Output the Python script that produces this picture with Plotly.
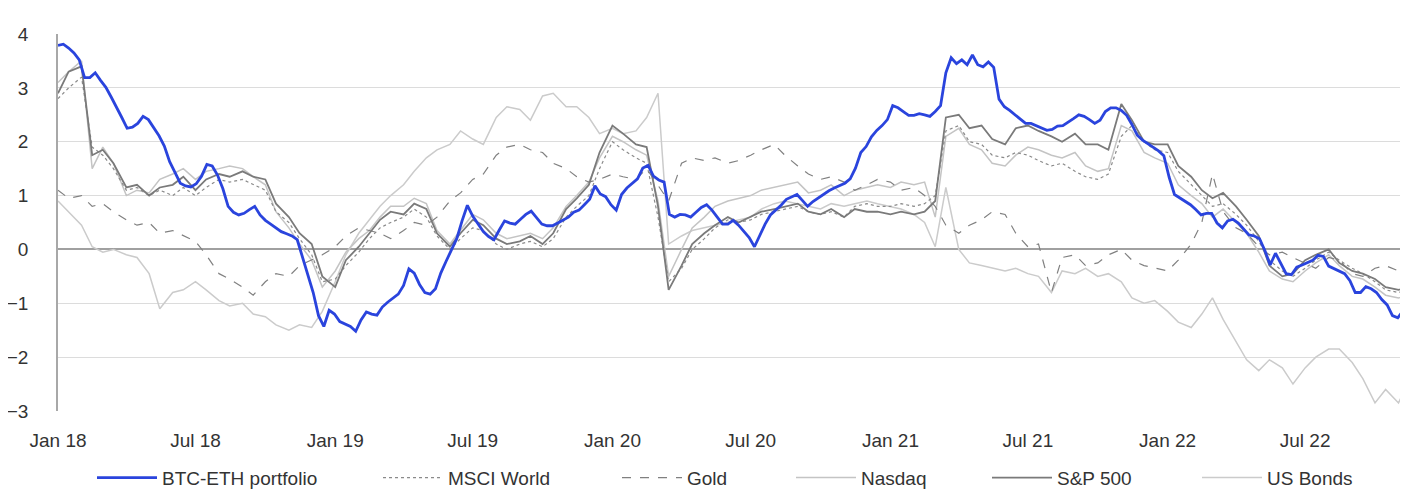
import pandas as pd
import plotly.graph_objects as go

# ---- data ----
# BTC-ETH portfolio: weekly readings from 1 Jan 2018
btc_dates = pd.date_range("2018-01-01", periods=256, freq="7D")
btc_eth = [3.79, 3.81, 3.74, 3.65, 3.52, 3.19, 3.19, 3.28, 3.14, 3.01, 2.83, 2.65,
           2.45, 2.25, 2.27, 2.34, 2.47, 2.41, 2.27, 2.11, 1.92, 1.63, 1.43, 1.23,
           1.18, 1.16, 1.22, 1.36, 1.58, 1.55, 1.38, 1.13, 0.80, 0.69, 0.64, 0.67,
           0.74, 0.80, 0.64, 0.54, 0.47, 0.40, 0.33, 0.29, 0.25, 0.18, -0.16, -0.47,
           -0.80, -1.23, -1.43, -1.13, -1.20, -1.34, -1.38, -1.43, -1.52, -1.31, -1.16, -1.20,
           -1.22, -1.07, -0.98, -0.91, -0.83, -0.67, -0.36, -0.44, -0.65, -0.80, -0.83, -0.73,
           -0.44, -0.22, 0.00, 0.20, 0.53, 0.82, 0.62, 0.47, 0.33, 0.24, 0.18, 0.36,
           0.53, 0.49, 0.47, 0.56, 0.65, 0.71, 0.58, 0.47, 0.44, 0.44, 0.49, 0.54,
           0.60, 0.69, 0.73, 0.83, 0.93, 1.18, 1.03, 0.98, 0.83, 0.73, 1.02, 1.14,
           1.22, 1.31, 1.51, 1.56, 1.36, 1.29, 1.25, 0.65, 0.60, 0.65, 0.64, 0.60,
           0.69, 0.78, 0.83, 0.73, 0.60, 0.47, 0.47, 0.54, 0.45, 0.33, 0.22, 0.05,
           0.27, 0.47, 0.64, 0.73, 0.82, 0.93, 0.98, 1.02, 0.91, 0.80, 0.89, 0.96,
           1.02, 1.09, 1.14, 1.18, 1.23, 1.31, 1.51, 1.80, 1.91, 2.09, 2.21, 2.30,
           2.41, 2.67, 2.63, 2.56, 2.49, 2.49, 2.52, 2.50, 2.47, 2.56, 2.67, 3.28,
           3.56, 3.45, 3.52, 3.43, 3.61, 3.43, 3.39, 3.48, 3.38, 2.79, 2.65, 2.58,
           2.50, 2.41, 2.34, 2.34, 2.30, 2.25, 2.21, 2.23, 2.29, 2.30, 2.36, 2.43,
           2.50, 2.47, 2.41, 2.34, 2.40, 2.56, 2.63, 2.63, 2.58, 2.49, 2.32, 2.12,
           2.03, 1.96, 1.89, 1.83, 1.74, 1.34, 1.02, 0.96, 0.89, 0.83, 0.74, 0.64,
           0.67, 0.67, 0.49, 0.40, 0.53, 0.56, 0.49, 0.38, 0.27, 0.25, 0.20, -0.02,
           -0.29, -0.07, -0.25, -0.45, -0.47, -0.33, -0.29, -0.24, -0.20, -0.11, -0.13, -0.31,
           -0.36, -0.40, -0.45, -0.58, -0.80, -0.80, -0.69, -0.73, -0.80, -0.93, -1.03, -1.23,
           -1.27, -1.14, -1.45, -1.36]

# Other series: semi-monthly readings (1st and 15th), last one on 24 Nov 2022
dates = list(pd.date_range("2018-01-01", periods=117, freq="SMS")) + [pd.Timestamp("2022-11-24")]

msci_world = [2.80, 3.00, 3.20, 1.90, 1.75, 1.50, 1.10, 1.15, 1.00, 1.10, 1.00, 1.15,
              1.00, 1.15, 1.30, 1.25, 1.30, 1.20, 1.10, 0.70, 0.50, 0.20, -0.10, -0.60,
              -0.55, -0.30, -0.05, 0.20, 0.40, 0.50, 0.60, 0.75, 0.60, 0.25, 0.00, 0.20,
              0.40, 0.35, 0.10, 0.00, 0.10, 0.15, 0.05, 0.20, 0.60, 0.80, 1.00, 1.50,
              2.00, 1.85, 1.70, 1.60, 0.60, -0.60, -0.35, 0.00, 0.20, 0.40, 0.55, 0.50,
              0.55, 0.65, 0.70, 0.75, 0.80, 0.70, 0.65, 0.70, 0.60, 0.80, 0.85, 0.80,
              0.80, 0.85, 0.80, 0.85, 1.00, 2.20, 2.30, 2.00, 1.95, 1.75, 1.70, 1.80,
              1.75, 1.65, 1.55, 1.60, 1.45, 1.35, 1.30, 1.40, 2.10, 2.30, 2.00, 1.85,
              1.80, 1.45, 1.20, 1.00, 0.80, 0.85, 0.65, 0.45, 0.15, -0.20, -0.40, -0.50,
              -0.35, -0.20, -0.05, -0.20, -0.35, -0.45, -0.60, -0.75, -0.80, -0.70]

gold = [1.10, 0.95, 1.00, 0.80, 0.85, 0.70, 0.55, 0.45, 0.50, 0.30, 0.35, 0.25,
        0.15, -0.10, -0.45, -0.55, -0.70, -0.85, -0.60, -0.45, -0.50, -0.30, -0.20, -0.10,
        0.05, 0.25, 0.40, 0.35, 0.30, 0.20, 0.35, 0.50, 0.45, 0.60, 0.90, 1.05,
        1.30, 1.40, 1.75, 1.90, 1.95, 1.85, 1.80, 1.60, 1.50, 1.35, 1.25, 1.30,
        1.40, 1.35, 1.30, 1.50, 1.20, 0.90, 1.60, 1.70, 1.65, 1.70, 1.60, 1.65,
        1.75, 1.85, 1.95, 1.75, 1.55, 1.40, 1.30, 1.35, 1.25, 1.10, 1.20, 1.30,
        1.25, 1.10, 1.15, 1.00, 0.80, 0.45, 0.30, 0.45, 0.55, 0.70, 0.65, 0.30,
        0.05, 0.10, -0.80, -0.15, -0.10, -0.30, -0.25, -0.10, 0.00, -0.20, -0.30, -0.35,
        -0.40, -0.20, 0.10, 0.50, 1.40, 0.70, 0.40, 0.30, 0.05, -0.10, -0.05, -0.15,
        -0.25, -0.35, -0.15, -0.20, -0.45, -0.50, -0.35, -0.30, -0.40, -0.35]

nasdaq = [3.10, 3.30, 3.50, 1.50, 1.90, 1.60, 1.00, 1.10, 1.05, 1.30, 1.40, 1.50,
          1.30, 1.45, 1.50, 1.55, 1.50, 1.35, 1.20, 0.70, 0.40, 0.10, -0.20, -0.70,
          -0.40, -0.05, 0.20, 0.35, 0.60, 0.80, 0.80, 0.95, 0.85, 0.35, 0.10, 0.35,
          0.65, 0.55, 0.30, 0.20, 0.25, 0.30, 0.20, 0.40, 0.80, 1.00, 1.25, 1.70,
          2.10, 2.00, 1.85, 1.75, 0.90, -0.50, 0.00, 0.40, 0.60, 0.80, 0.90, 0.95,
          1.00, 1.10, 1.15, 1.20, 1.25, 1.05, 1.10, 1.20, 1.00, 1.10, 1.15, 1.20,
          1.15, 1.25, 1.20, 1.25, 0.60, 2.10, 2.25, 1.95, 1.85, 1.60, 1.55, 1.75,
          1.90, 1.85, 1.75, 1.70, 1.80, 1.55, 1.45, 1.50, 2.30, 2.20, 1.80, 1.70,
          1.60, 1.20, 1.00, 0.85, 0.60, 0.75, 0.50, 0.30, -0.05, -0.40, -0.55, -0.60,
          -0.40, -0.25, -0.10, -0.30, -0.50, -0.55, -0.70, -0.85, -0.90, -0.80]

sp500 = [2.90, 3.30, 3.40, 1.75, 1.85, 1.60, 1.15, 1.20, 1.00, 1.15, 1.20, 1.35,
         1.10, 1.30, 1.40, 1.35, 1.45, 1.35, 1.30, 0.85, 0.60, 0.30, 0.10, -0.50,
         -0.70, -0.20, 0.05, 0.30, 0.55, 0.70, 0.65, 0.85, 0.75, 0.30, 0.05, 0.30,
         0.55, 0.45, 0.20, 0.10, 0.15, 0.25, 0.10, 0.30, 0.75, 0.95, 1.20, 1.80,
         2.30, 2.15, 1.95, 1.90, 0.80, -0.75, -0.30, 0.10, 0.30, 0.45, 0.60, 0.50,
         0.60, 0.70, 0.75, 0.80, 0.85, 0.70, 0.65, 0.75, 0.60, 0.75, 0.70, 0.70,
         0.65, 0.70, 0.65, 0.70, 0.90, 2.45, 2.50, 2.25, 2.30, 2.05, 1.95, 2.25,
         2.30, 2.20, 2.10, 2.00, 2.15, 1.95, 1.95, 1.85, 2.70, 2.40, 2.00, 1.95,
         1.95, 1.55, 1.35, 1.10, 0.95, 1.05, 0.80, 0.55, 0.25, -0.30, -0.50, -0.45,
         -0.20, -0.10, 0.00, -0.25, -0.40, -0.45, -0.55, -0.70, -0.75, -0.65]

us_bonds = [0.90, 0.70, 0.45, 0.05, -0.05, 0.00, -0.10, -0.15, -0.45, -1.10, -0.80, -0.75,
            -0.60, -0.75, -0.95, -1.05, -1.00, -1.20, -1.25, -1.40, -1.50, -1.40, -1.45, -1.15,
            -0.60, -0.10, 0.30, 0.55, 0.80, 1.00, 1.20, 1.45, 1.70, 1.85, 1.95, 2.20,
            2.05, 1.95, 2.45, 2.65, 2.60, 2.40, 2.85, 2.90, 2.65, 2.65, 2.45, 2.15,
            2.25, 2.15, 2.20, 2.45, 2.90, 0.10, 0.25, 0.35, 0.40, 0.45, 0.50, 0.55,
            0.60, 0.75, 0.85, 0.90, 0.85, 0.80, 0.75, 0.85, 0.80, 0.85, 0.90, 0.85,
            0.80, 0.75, 0.65, 0.50, 0.05, 1.15, 0.00, -0.25, -0.30, -0.35, -0.40, -0.35,
            -0.45, -0.50, -0.80, -0.40, -0.45, -0.35, -0.50, -0.45, -0.60, -0.90, -1.00, -0.95,
            -1.15, -1.35, -1.45, -1.20, -0.90, -1.30, -1.70, -2.05, -2.25, -2.05, -2.20, -2.50,
            -2.20, -2.00, -1.85, -1.85, -2.10, -2.40, -2.85, -2.60, -2.85, -2.15]

names = ["BTC-ETH portfolio", "MSCI World", "Gold", "Nasdaq", "S&P 500", "US Bonds"]
series_x = [btc_dates, dates, dates, dates, dates, dates]
series_y = [btc_eth, msci_world, gold, nasdaq, sp500, us_bonds]

# ---- styles ----
styles = [
    dict(color="#2a44dd", width=2.8, dash="solid"),
    dict(color="#8a8a8a", width=1.2, dash="dot"),
    dict(color="#808080", width=1.2, dash="dash"),
    dict(color="#c4c4c4", width=1.5, dash="solid"),
    dict(color="#7a7a7a", width=1.8, dash="solid"),
    dict(color="#cbcbcb", width=1.5, dash="solid"),
]
legend_px = [84, 370, 609, 783, 979, 1189]
FONT = "Liberation Sans, Arial, sans-serif"
L, R, T, B = 50, 0, 26, 78
W, H = 1408, 489
plot_w = W - L - R

fig = go.Figure()
order = [5, 3, 2, 1, 4, 0]  # blue drawn last (on top)
for k in order:
    lg = "legend" if k == 0 else f"legend{k+1}"
    fig.add_trace(go.Scatter(
        x=series_x[k], y=series_y[k], name=names[k], mode="lines",
        line=dict(color=styles[k]["color"], width=styles[k]["width"], dash=styles[k]["dash"]),
        legend=lg, showlegend=True, hoverinfo="skip",
    ))

layout_legends = {}
for k in range(6):
    lg = "legend" if k == 0 else f"legend{k+1}"
    layout_legends[lg] = dict(
        x=(legend_px[k] - L) / plot_w, y=-0.177, xanchor="left", yanchor="middle",
        orientation="h", itemwidth=60, bgcolor="rgba(0,0,0,0)", borderwidth=0,
        font=dict(family=FONT, size=19, color="#333333"), visible=True,
    )

fig.update_layout(
    width=W, height=H, margin=dict(l=L, r=R, t=T, b=B),
    paper_bgcolor="white", plot_bgcolor="white", showlegend=True,
    font=dict(family=FONT, size=19, color="#333333"),
    **layout_legends,
)
fig.update_xaxes(
    type="date", range=["2018-01-01", "2022-11-24"],
    tick0="2018-01-01", dtick="M6", tickformat="%b %y",
    showgrid=False, showline=False, zeroline=False, ticks="",
    ticklabelstandoff=16,
    tickfont=dict(family=FONT, size=19, color="#333333"),
)
fig.update_yaxes(
    range=[-3, 4], dtick=1, tick0=0,
    showgrid=True, gridcolor="#dcdcdc", gridwidth=1,
    zeroline=True, zerolinecolor="#a0a0a0", zerolinewidth=2,
    showline=True, linecolor="#a8a8a8", linewidth=1.5, ticks="",
    ticklabelstandoff=24,
    tickfont=dict(family=FONT, size=19, color="#333333"),
)

fig.write_html("out.html")
